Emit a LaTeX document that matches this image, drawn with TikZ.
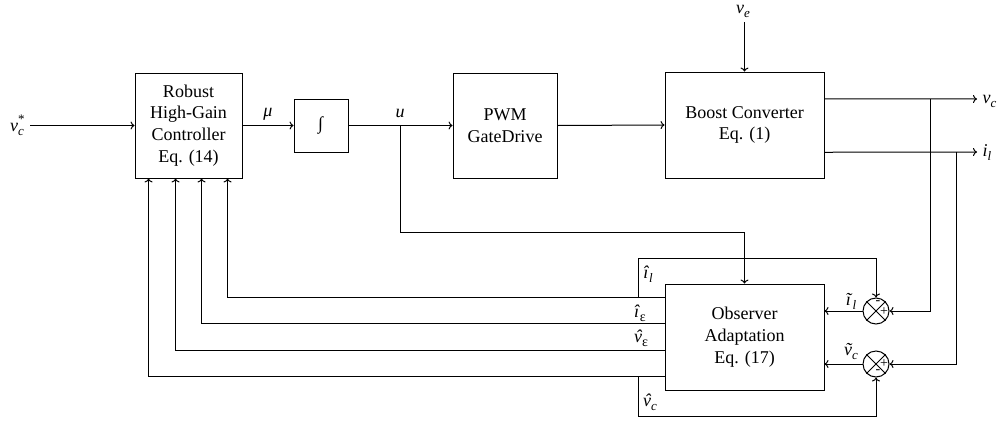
\documentclass[tikz,border=0pt]{standalone}
\usepackage{fontspec}
\setmainfont{Liberation Serif}
\usetikzlibrary{arrows.meta,calc}
\newcommand\subi[1]{\raisebox{-0.22em}{\fontsize{13}{12}\selectfont\textit{#1}}}
\newcommand\subr[1]{\raisebox{-0.22em}{\fontsize{14}{12}\selectfont #1}}
\newcommand\supi[1]{\raisebox{0.45em}{\fontsize{13}{12}\selectfont #1}}
\newcommand\hatv{\ooalign{\textit{v}\cr\hidewidth\kern0.1em\textit{ˆ}\hidewidth\cr}}
\newcommand\tildev{\ooalign{\textit{v}\cr\hidewidth\kern0.1em\textit{˜}\hidewidth\cr}}
\begin{document}
\begin{tikzpicture}[x=1pt,y=-1pt, line width=1pt, >={To[length=4pt,width=8pt]},
 blk/.style={draw, line width=0.9pt, align=center, inner sep=0pt, font=\fontsize{18}{21.7}\selectfont},
 lbl/.style={font=\fontsize{18}{20}\selectfont, inner sep=0pt},
 sumc/.style={draw, circle, minimum size=26pt, inner sep=0pt},
 sgn/.style={font=\fontsize{14}{14}\selectfont, inner sep=0pt}]
\useasboundingbox (0,0) rectangle (1006,426);
% blocks
\node[blk, minimum width=107pt, minimum height=105pt] (ctrl) at (188.5,125.5) {Robust\\High-Gain\\Controller\\Eq. (14)};
\node[blk, minimum width=54pt, minimum height=53pt] (integ) at (321,125.5) {\textit{∫}};
\node[blk, minimum width=104pt, minimum height=105pt] (pwm) at (505,125.5) {PWM\\GateDrive};
\node[blk, minimum width=159pt, minimum height=106pt] (boost) at (744.5,125) {Boost Converter\\Eq. (1)};
\node[blk, minimum width=159pt, minimum height=106pt] (obs) at (744.5,337) {Observer\\Adaptation\\Eq. (17)};
\node[sumc] (s1) at (876,311) {};
\node[sumc] (s2) at (876,364) {};
\draw (s1.north west) -- (s1.south east) (s1.north east) -- (s1.south west);
\draw (s2.north west) -- (s2.south east) (s2.north east) -- (s2.south west);
\node[sgn] (s1m) at ($(s1)+(2,-8)$) {-};
\node[sgn] (s1p) at ($(s1)+(8,1)$) {+};
\node[sgn] (s2p) at ($(s2)+(8,0)$) {+};
\node[sgn] (s2m) at ($(s2)+(2,8)$) {-};
% labels
\node[lbl] (vref) at (17,125) {\textit{v}\rlap{\supi{*}}\subi{c}};
\node[lbl] (mul) at (268,114) {\textit{μ}};
\node[lbl] (ul) at (400,113) {\textit{u}};
\node[lbl] (vel) at (743,11) {\textit{v}\subi{e}};
\node[lbl, anchor=west] (vcl) at (982,101) {\textit{v}\subi{c}};
\node[lbl, anchor=west] (ill) at (982,153) {\textit{i}\subi{l}};
\node[lbl] (ihl) at (648,274) {\textit{î}\subi{l}};
\node[lbl] (ihe) at (640,313) {\textit{î}\subr{ε}};
\node[lbl] (vhe) at (641,340) {\hatv\subr{ε}};
\node[lbl] (vhc) at (650,404) {\hatv\subi{c}};
\node[lbl] (itl) at (851,301) {\textit{ĩ}\subi{l}};
\node[lbl] (vtl) at (851,353) {\tildev\subi{c}};
% coordinates
\coordinate (vin) at (30,125.5);
\coordinate (ve) at (744.5,22);
\coordinate (ub) at (400,125.5);
\coordinate (bvc) at ($(boost.north east)!0.255!(boost.south east)$);
\coordinate (bil) at ($(boost.north east)!0.755!(boost.south east)$);
\coordinate (tvc) at (930,99);
\coordinate (til) at (956,152);
\coordinate (o1) at ($(obs.north west)+(0,14)$);
\coordinate (o2) at ($(obs.north west)+(0,40)$);
\coordinate (o3) at ($(obs.north west)+(0,67)$);
\coordinate (o4) at ($(obs.north west)+(0,93)$);
\coordinate (c1) at ($(ctrl.south west)+(93,0)$);
\coordinate (c2) at ($(ctrl.south west)+(67,0)$);
\coordinate (c3) at ($(ctrl.south west)+(41,0)$);
\coordinate (c4) at ($(ctrl.south west)+(14,0)$);
\coordinate (b1) at (638,298);
\coordinate (b4) at (638,377);
% connectors
\draw[->] (vin) -- (ctrl.west);
\draw[->] (ctrl.east) -- (integ.west);
\draw[->] (integ.east) -- (pwm.west);
\draw[->] (pwm.east) -- (boost.west);
\draw[->] (ve) -- (boost.north);
\draw[->] (bvc) -- (977,99);
\draw[->] (bil) -- (977,152);
\draw[->] (ub) -- (400,232) -| (obs.north);
\draw[->] (tvc) |- (s1.east);
\draw[->] (til) |- (s2.east);
\draw[->] (s1.west) -- (s1.west -| obs.east);
\draw[->] (s2.west) -- (s2.west -| obs.east);
\draw[->] (o1) -| (c1);
\draw[->] (o2) -| (c2);
\draw[->] (o3) -| (c3);
\draw[->] (o4) -| (c4);
\draw[->] (b1) -- ++(0,-40) -| (s1.north);
\draw[->] (b4) -- ++(0,39) -| (s2.south);
\end{tikzpicture}
\end{document}
